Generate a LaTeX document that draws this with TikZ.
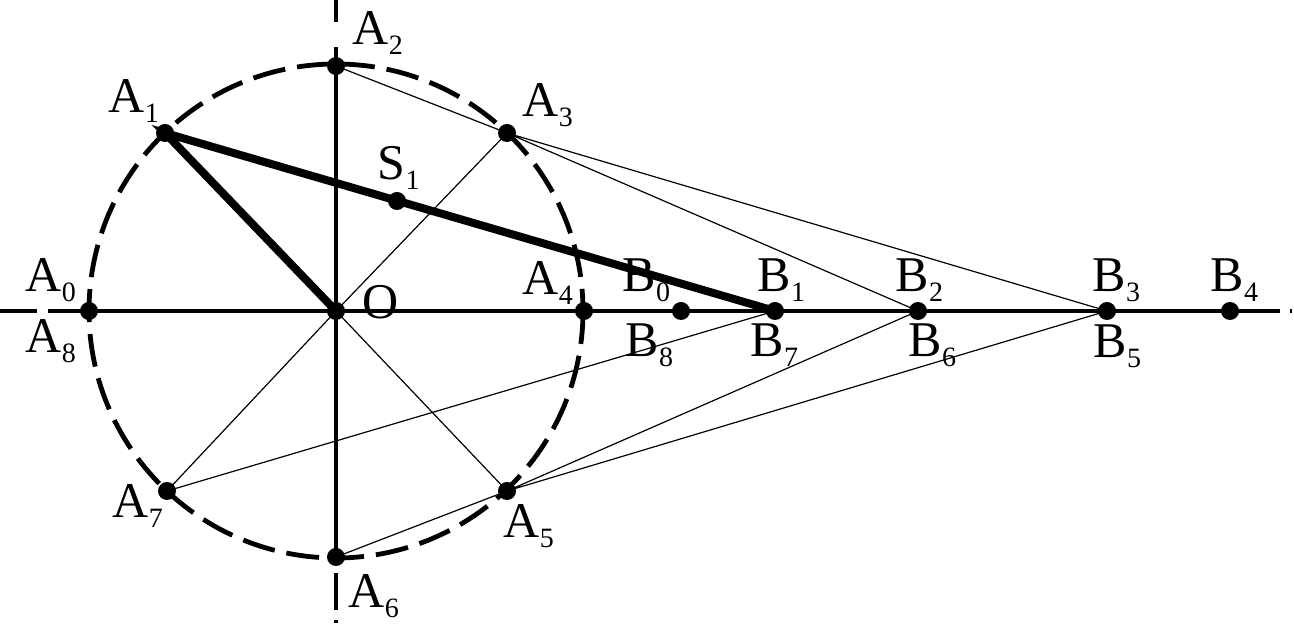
\documentclass[tikz,border=0pt]{standalone}
\usepackage{fontspec}
\setmainfont{Liberation Serif}
\newcommand{\lbl}[2]{#1\raisebox{-2.5pt}{\fontsize{7}{7}\selectfont #2}}

\begin{document}
\begin{tikzpicture}[x=0.25pt, y=-0.25pt,
    thinline/.style={line width=0.3pt},
    thickline/.style={line width=2pt, line cap=round},
    axisline/.style={line width=1.1pt},
    lab/.style={anchor=base west, inner sep=0pt, font=\fontsize{12.5}{14}\selectfont}]
    \useasboundingbox (0,0) rectangle (1294,627);
    \coordinate (O) at (336,311);
    \pgfmathsetmacro{\R}{247}  % units of pixels
    % points on the circle
    \coordinate (A0) at (89,311);
    \coordinate (A1) at (165,133);
    \coordinate (A2) at (336,66);
    \coordinate (A3) at (507,133);
    \coordinate (A4) at (584,311);
    \coordinate (A5) at (507,491);
    \coordinate (A6) at (336,557);
    \coordinate (A7) at (167,491);
    % points on the axis
    \coordinate (B0) at (681,311);
    \coordinate (B1) at (775,311);
    \coordinate (B2) at (918,311);
    \coordinate (B3) at (1107,311);
    \coordinate (B4) at (1230,311);
    \coordinate (S1) at (397,201);
    % thin construction lines
    \draw[thinline] (O) -- (A3) (O) -- (A5) (O) -- (A7);
    \draw[thinline] (A2) -- (A3) -- (B2) (A3) -- (B3);
    \draw[thinline] (A6) -- (A5) -- (B2) (A5) -- (B3);
    \draw[thinline] (A7) -- (B1);
    % Syntax: circle[radius=r], dashed
    \draw[line width=1.2pt, dash pattern=on 8.25pt off 3pt] (O) circle[radius=\R];
    % axes
    \draw[axisline, dash pattern=on 9.25pt off 2.75pt on 308pt off 2.5pt on 0.6pt] (0,311) -- (1294,311);
    \draw[axisline, dash pattern=on 5.5pt off 6.25pt on 128.25pt off 3.25pt on 9.25pt off 2.5pt on 0.75pt] (336,0) -- (336,627);
    % thick lines
    \draw[thickline] (O) -- (A1) -- (B1);
    % dots
    \foreach \p in {O,A0,A1,A2,A3,A4,A5,A6,A7,B0,B1,B2,B3,B4,S1}
        \fill (\p) circle[radius=2.25pt];
    % labels
    \node[lab] (lA0) at (25,292) {\lbl{A}{0}};
    \node[lab] (lA8) at (25,353) {\lbl{A}{8}};
    \node[lab] (lA1) at (108,113) {\lbl{A}{1}};
    \node[lab] (lA2) at (352,45) {\lbl{A}{2}};
    \node[lab] (lA3) at (522,117) {\lbl{A}{3}};
    \node[lab] (lA4) at (522,295) {\lbl{A}{4}};
    \node[lab] (lA5) at (503,538) {\lbl{A}{5}};
    \node[lab] (lA6) at (348,608) {\lbl{A}{6}};
    \node[lab] (lA7) at (112,518) {\lbl{A}{7}};
    \node[lab] (lS1) at (377,180) {\lbl{S}{1}};
    \node[lab] (lO) at (362,319) {O};
    \node[lab] (lB0) at (622,292) {\lbl{B}{0}};
    \node[lab] (lB1) at (757,292) {\lbl{B}{1}};
    \node[lab] (lB2) at (895,292) {\lbl{B}{2}};
    \node[lab] (lB3) at (1092,292) {\lbl{B}{3}};
    \node[lab] (lB4) at (1210,292) {\lbl{B}{4}};
    \node[lab] (lB8) at (625,357) {\lbl{B}{8}};
    \node[lab] (lB7) at (750,357) {\lbl{B}{7}};
    \node[lab] (lB6) at (908,357) {\lbl{B}{6}};
    \node[lab] (lB5) at (1093,358) {\lbl{B}{5}};
\end{tikzpicture}
\end{document}
